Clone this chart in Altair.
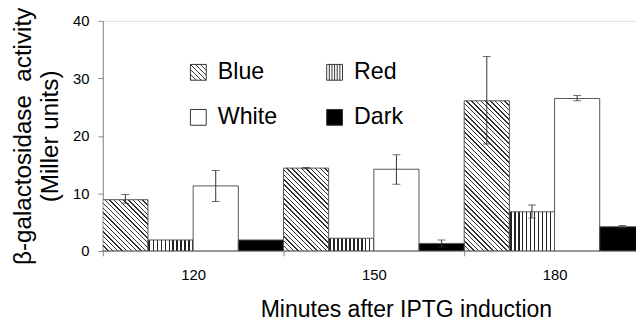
import math
import altair as alt
import pandas as pd

# ---------------- data ----------------
minutes = ["120", "150", "180"]
lights = ["Blue", "Red", "White", "Dark"]

blue = [8.9, 14.4, 26.1]
red = [1.9, 2.2, 6.8]
white = [11.3, 14.2, 26.5]
dark = [1.9, 1.3, 4.2]

blue_err = [(8.3, 9.8), (14.3, 14.5), (18.6, 33.8)]
red_err = [None, None, (5.7, 8.0)]
white_err = [(8.6, 14.0), (11.6, 16.7), (26.1, 27.0)]
dark_err = [None, (0.7, 1.9), (4.0, 4.4)]

y_ticks = [0, 10, 20, 30, 40]

rows = []
for light, vals, errs in zip(lights, [blue, red, white, dark],
                             [blue_err, red_err, white_err, dark_err]):
    for m, v, e in zip(minutes, vals, errs):
        rows.append({"Minutes": m, "Light": light, "Activity": v,
                     "Lo": e[0] if e else None, "Hi": e[1] if e else None})
df = pd.DataFrame(rows)

# ---------------- layout / styles ----------------
FONT = "Liberation Sans"
PLOT_W = 540          # visible plot width (right part is cut off as in the reference)
FULL_W = 549          # full x range of the band scale
PLOT_H = 233
BAR_W = FULL_W / 12.0
PX = PLOT_H / 40.0


def diag(w, h, p0, d, n, col="#333"):
    L = f"({w}+{h})"
    S = f"({w}*{w}+{h}*{h})"
    x2 = f"{L}*{w}/{S}"
    y2 = f"1-{L}*{h}/{S}"
    stops = []
    for k in range(n):
        a = k * p0
        b = a + d
        c = a + p0
        stops.append(f"{{offset:min(1,{a}/{L}),color:'{col}'}}")
        stops.append(f"{{offset:min(1,{b}/{L}),color:'{col}'}}")
        stops.append(f"{{offset:min(1,{b}/{L}),color:'#ffffff'}}")
        stops.append(f"{{offset:min(1,{c}/{L}),color:'#ffffff'}}")
    return ("{gradient:'linear',x1:0,y1:1,x2:" + x2 + ",y2:" + y2 +
            ",stops:[" + ",".join(stops) + "]}")


def vert(W, p, d, col="#222"):
    n = int(math.ceil(W / p)) + 1
    stops = []
    for k in range(n):
        a = min(1.0, (k * p + 0.8) / W)
        b = min(1.0, (k * p + 0.8 + d) / W)
        c = min(1.0, ((k + 1) * p + 0.8) / W)
        stops.append(f"{{offset:{a:.4f},color:'{col}'}}")
        stops.append(f"{{offset:{b:.4f},color:'{col}'}}")
        stops.append(f"{{offset:{b:.4f},color:'#ffffff'}}")
        stops.append(f"{{offset:{c:.4f},color:'#ffffff'}}")
    return ("{gradient:'linear',x1:0,y1:0,x2:1,y2:0,stops:[" +
            ",".join(stops) + "]}")


bar_pat = ("datum.Light==='Blue'?" + diag(f"{BAR_W:.3f}", f"(datum.Activity*{PX:.4f})", 4.8, 1.4, 46) +
           ":datum.Light==='Red'?" + vert(BAR_W, 4.0, 1.5) +
           ":datum.Light==='White'?'#ffffff':'#000000'")

# legend symbol shapes (unit square -1..1 with hatch lines)
square = "M-1,-1H1V1H-1Z"
diag_lines = []
for c in [-1.875, -1.25, -0.625, 0, 0.625, 1.25, 1.875]:
    ylo, yhi = max(-1, -1 - c), min(1, 1 - c)
    diag_lines.append(f"M{ylo + c:.3f},{ylo:.3f}L{yhi + c:.3f},{yhi:.3f}")
vert_lines = "".join(f"M{x:.3f},-1V1" for x in [-0.667, -0.333, 0, 0.333, 0.667])
shape_range = [square + "".join(diag_lines), square + vert_lines, square, square]
legend_fill = ["#ffffff", "#ffffff", "#ffffff", "#000000"]

x_enc = alt.X("Minutes:N", sort=minutes,
              scale=alt.Scale(domain=minutes, range=[0, FULL_W], paddingInner=0, paddingOuter=0),
              axis=alt.Axis(title="Minutes after IPTG induction", labelAngle=0, tickBand="extent",
                            labelFontSize=15, labelFont=FONT, labelColor="#000", labelPadding=12,
                            tickSize=5, tickColor="#888", domainColor="#888",
                            titleFont=FONT, titleFontSize=23.3, titleFontWeight="normal",
                            titleColor="#000", titlePadding=16, titleX=307))
xo_enc = alt.XOffset("Light:N", sort=lights,
                     scale=alt.Scale(domain=lights, paddingInner=0, paddingOuter=0))
y_scale = alt.Scale(domain=[0, 40], nice=False)
y_axis = alt.Axis(values=y_ticks, grid=False, labelFontSize=15, labelFont=FONT, labelColor="#000",
                  labelPadding=9, tickSize=5, tickColor="#888", domainColor="#888",
                  title=["β-galactosidase\u00a0\u00a0activity", "(Miller units)"], titleFont=FONT,
                  titleFontSize=24.5, titleFontWeight="normal", titleColor="#000",
                  titleLineHeight=28, titlePadding=10)

legend = alt.Legend(title=None, orient="none", legendX=85, legendY=40, columns=2,
                    direction="horizontal", columnPadding=46, rowPadding=21, padding=0,
                    symbolSize=256, symbolStrokeWidth=1, symbolStrokeColor="#333",
                    labelFont=FONT, labelFontSize=23.5, labelColor="#000", labelOffset=8)

bars = alt.Chart().transform_calculate(pat=bar_pat).mark_bar(
    clip=True, stroke="#555", strokeWidth=1).encode(
    x=x_enc, xOffset=xo_enc,
    y=alt.Y("Activity:Q", scale=y_scale, axis=y_axis),
    fill=alt.Fill("pat:N", scale=None, legend=None),
)

legend_layer = alt.Chart().transform_filter("false").mark_point(
    filled=True, size=256, stroke="#333", opacity=1).encode(
    color=alt.Color("Light:N", sort=lights,
                    scale=alt.Scale(domain=lights, range=legend_fill), legend=legend),
    shape=alt.Shape("Light:N", sort=lights,
                    scale=alt.Scale(domain=lights, range=shape_range), legend=legend),
)

err = alt.Chart().transform_filter("isValid(datum.Lo)")
err_rule = err.mark_rule(color="#333", strokeWidth=1, clip=True).encode(
    x=x_enc, xOffset=xo_enc, y=alt.Y("Lo:Q", scale=y_scale), y2="Hi:Q")
err_lo = err.mark_tick(color="#333", thickness=1, size=8, clip=True).encode(
    x=x_enc, xOffset=xo_enc, y=alt.Y("Lo:Q", scale=y_scale))
err_hi = err.mark_tick(color="#333", thickness=1, size=8, clip=True).encode(
    x=x_enc, xOffset=xo_enc, y=alt.Y("Hi:Q", scale=y_scale))

chart = alt.layer(bars, err_rule, err_lo, err_hi, legend_layer, data=df).properties(
    width=PLOT_W, height=PLOT_H,
    autosize=alt.AutoSizeParams(type="none"),
    padding={"left": 96, "top": 11, "right": 0, "bottom": 70},
).configure_view(stroke="#999", strokeWidth=1).configure(background="white")

chart.save("out.html", embed_options={"renderer": "svg", "actions": False})
